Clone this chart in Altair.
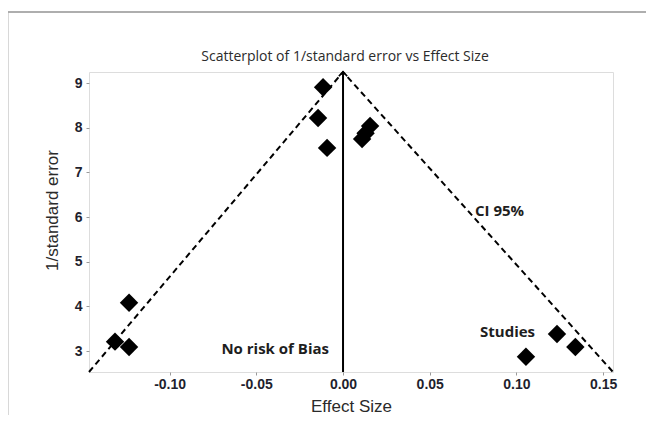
import altair as alt
import pandas as pd

# Study points (effect size, 1/standard error)
effect = [-0.0115, -0.0144, -0.0092, 0.0156, 0.0130, 0.0110,
          -0.1234, -0.1315, -0.1234, 0.1234, 0.1340, 0.1055]
inv_se = [8.91, 8.22, 7.55, 8.04, 7.88, 7.75,
          4.08, 3.21, 3.09, 3.38, 3.09, 2.87]

# Funnel (95% CI) outline
funnel_x = [-0.1465, 0.0, 0.1557]
funnel_y = [2.53, 9.25, 2.53]

# Vertical reference line
ref_x = [0.0, 0.0]
ref_y = [2.53, 9.25]

# Annotations
ann_text = ["CI 95%", "Studies", "No risk of Bias"]
ann_x = [0.0761, 0.0790, -0.0081]
ann_y = [6.14, 3.43, 3.05]
ann_align = ["left", "left", "right"]

x_ticks = [-0.10, -0.05, 0.00, 0.05, 0.10, 0.15]
y_ticks = [3, 4, 5, 6, 7, 8, 9]

title_text = ["Scatterplot of 1/standard error vs Effect Size"]

XDOM = [-0.1465, 0.1557]
YDOM = [2.53, 9.25]

FONT = "Open Sans"
LABEL_COLOR = "#1f1f2e"

pts = pd.DataFrame({"x": effect, "y": inv_se})
fun = pd.DataFrame({"x": funnel_x, "y": funnel_y, "o": [0, 1, 2]})
ref = pd.DataFrame({"x": ref_x, "y": ref_y})
apex = pd.DataFrame({"x": [funnel_x[1]], "y": [funnel_y[1]]})
ann = pd.DataFrame({"t": ann_text, "x": ann_x, "y": ann_y, "a": ann_align})
ttl = pd.DataFrame({"t": title_text})

xs = alt.Scale(domain=XDOM, nice=False, zero=False)
ys = alt.Scale(domain=YDOM, nice=False, zero=False)

xaxis = alt.Axis(
    values=x_ticks,
    labelExpr="(datum.value < 0 ? '-' : '') + format(abs(datum.value), '.2f')",
    title="Effect Size",
    titleFontSize=17, titleFontWeight="normal", titleColor="#2a2a2a",
    titleY=34, titleBaseline="middle",
    labelFontSize=14, labelFontWeight=600, labelColor=LABEL_COLOR,
    labelPadding=2, tickSize=3, tickColor="#9a9a9a", domain=False, grid=False,
    labelFlush=False,
)
yaxis = alt.Axis(
    values=y_ticks,
    title="1/standard error",
    titleFontSize=17, titleFontWeight="normal", titleColor="#2a2a2a",
    titleX=-37, titleY=138, titleBaseline="middle", titleAngle=-90,
    labelFontSize=14, labelFontWeight=600, labelColor=LABEL_COLOR,
    labelPadding=4, tickSize=3, tickColor="#9a9a9a", domain=False, grid=False,
)

funnel = alt.Chart(fun).mark_line(
    color="black", strokeWidth=2, strokeDash=[6, 4]
).encode(
    x=alt.X("x:Q", scale=xs, axis=xaxis),
    y=alt.Y("y:Q", scale=ys, axis=yaxis),
    order="o:Q",
)

refline = alt.Chart(ref).mark_line(color="black", strokeWidth=2).encode(
    x=alt.X("x:Q", scale=xs), y=alt.Y("y:Q", scale=ys)
)

arrow = alt.Chart(apex).mark_point(
    shape="M-1,1L0,0L1,1", size=70, filled=False, color="black", strokeWidth=1.6, opacity=1
).encode(x=alt.X("x:Q", scale=xs), y=alt.Y("y:Q", scale=ys))

points = alt.Chart(pts).mark_point(
    shape="diamond", size=340, filled=True, color="black", opacity=1
).encode(x=alt.X("x:Q", scale=xs), y=alt.Y("y:Q", scale=ys))

texts = []
for al in ["left", "right"]:
    texts.append(
        alt.Chart(ann).transform_filter(alt.datum.a == al).mark_text(
            align=al, baseline="middle", font=FONT, fontSize=15,
            fontWeight="bold", color="#1e1e1e"
        ).encode(x=alt.X("x:Q", scale=xs), y=alt.Y("y:Q", scale=ys), text="t:N")
    )

# Chart title, drawn as a text mark centred above the plot
title_mark = alt.Chart(ttl).mark_text(
    align="center", baseline="middle", font=FONT, fontSize=14,
    color="#2b2b2b", clip=False
).encode(x=alt.value(256), y=alt.value(-15), text="t:N")

# Outer figure frame (decorative, like the source graph window)
frame_left = alt.Chart(ref).mark_rule(color="#a8a8a8", strokeWidth=1.5, clip=False).encode(
    x=alt.value(-81.5), y=alt.value(-60), y2=alt.value(360)
)
frame_top = alt.Chart(ref).mark_rule(color="#a8a8a8", strokeWidth=1.5, clip=False).encode(
    x=alt.value(-81.5), x2=alt.value(570), y=alt.value(-60)
)

chart = alt.layer(
    frame_left, frame_top, funnel, refline, arrow, points, *texts, title_mark
).properties(
    width=524, height=300,
    autosize=alt.AutoSizeParams(type="none"),
    padding={"left": 81, "top": 64, "right": 33, "bottom": 43},
).configure_view(
    stroke="#c8c8c8", strokeWidth=1
).configure_axis(
    labelFont=FONT, titleFont=FONT
).configure(background="white")

chart.save("out.html", embed_options={"renderer": "svg", "actions": False})
